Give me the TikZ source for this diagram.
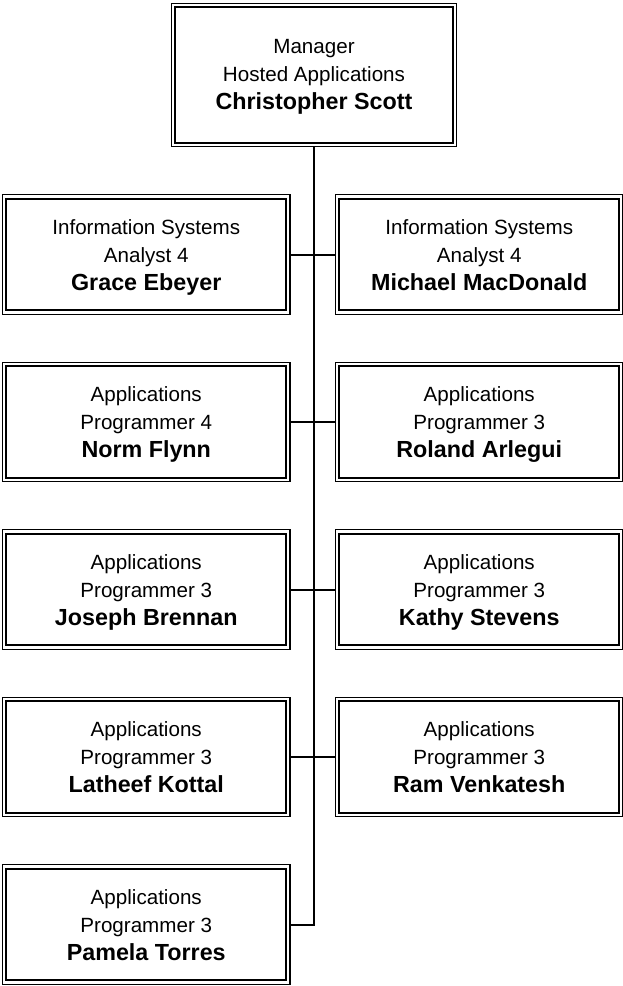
\documentclass[tikz,border=0pt]{standalone}
\usepackage{fontspec}
\setmainfont{Liberation Sans}
\begin{document}
\begin{tikzpicture}[x=1pt,y=-1pt]
\tikzset{
  card/.style={draw, line width=1.2pt, minimum width=287.3pt, minimum height=119.3pt,
    inner sep=0pt},
  topcard/.style={card, minimum width=284.8pt, minimum height=143.3pt},
  txt/.style={inner sep=0pt, align=center, font=\fontsize{20.6}{28}\selectfont},
  innerline/.style={line width=2pt},
  conn/.style={line width=2pt},
  trunk/.style={line width=2.8pt, line cap=rect},
}
\newcommand{\nm}[1]{{\bfseries\fontsize{23.3}{28}\selectfont #1\vphantom{gyp}}}
\useasboundingbox (0,0) rectangle (623,986);

\node[topcard] (mgr) at (314,74.75) {};
\node[card] (a1) at (146.25,254.5) {};
\node[card] (b1) at (479.25,254.5) {};
\node[card] (a2) at (146.25,422) {};
\node[card] (b2) at (479.25,422) {};
\node[card] (a3) at (146.25,589.5) {};
\node[card] (b3) at (479.25,589.5) {};
\node[card] (a4) at (146.25,757) {};
\node[card] (b4) at (479.25,757) {};
\node[card] (pam) at (146.25,924.5) {};

\node[txt] (mgrt) at ([yshift=-2.5pt]mgr.center) {Manager\\Hosted Applications\\\nm{Christopher Scott}};
\node[txt] (a1t) at ([yshift=-2.8pt]a1.center) {Information Systems\\Analyst 4\\\nm{Grace Ebeyer}};
\node[txt] (b1t) at ([yshift=-2.8pt]b1.center) {Information Systems\\Analyst 4\\\nm{Michael MacDonald}};
\node[txt] (a2t) at ([yshift=-2.8pt]a2.center) {Applications\\Programmer 4\\\nm{Norm Flynn}};
\node[txt] (b2t) at ([yshift=-2.8pt]b2.center) {Applications\\Programmer 3\\\nm{Roland Arlegui}};
\node[txt] (a3t) at ([yshift=-2.8pt]a3.center) {Applications\\Programmer 3\\\nm{Joseph Brennan}};
\node[txt] (b3t) at ([yshift=-2.8pt]b3.center) {Applications\\Programmer 3\\\nm{Kathy Stevens}};
\node[txt] (a4t) at ([yshift=-2.8pt]a4.center) {Applications\\Programmer 3\\\nm{Latheef Kottal}};
\node[txt] (b4t) at ([yshift=-2.8pt]b4.center) {Applications\\Programmer 3\\\nm{Ram Venkatesh}};
\node[txt] (pamt) at ([yshift=-2.8pt]pam.center) {Applications\\Programmer 3\\\nm{Pamela Torres}};

\foreach \n in {mgr,a1,b1,a2,b2,a3,b3,a4,b4,pam}
  \draw[innerline] ([shift={(4.4pt,-4.4pt)}]\n.north west) rectangle ([shift={(-4.4pt,4.4pt)}]\n.south east);

\coordinate (corner) at (mgr.south |- pam.east);
\draw[trunk] (mgr.south) -- (corner);
\draw[conn] (corner) -- (pam.east);
\foreach \i in {1,2,3,4}
  \draw[conn] (a\i.east) -- (b\i.west);
\end{tikzpicture}
\end{document}
